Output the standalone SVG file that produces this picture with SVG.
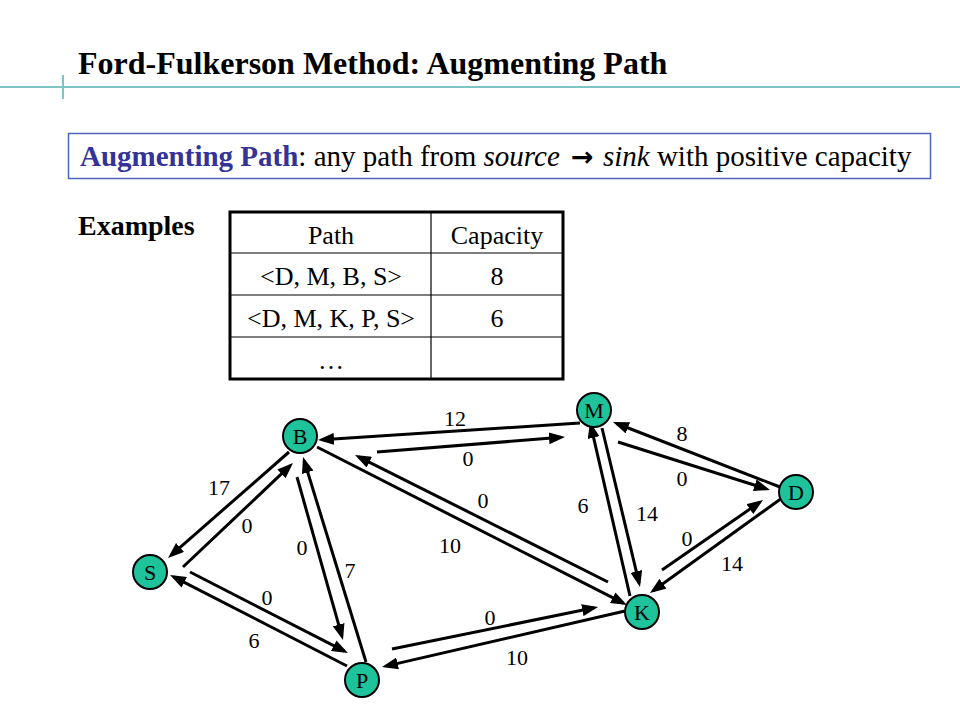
<svg xmlns="http://www.w3.org/2000/svg" width="960" height="720" viewBox="0 0 960 720">
<style>
text{font-family:"Liberation Serif","Times New Roman",serif;fill:#000}
.title{font-size:32px;font-weight:bold}
.sub{font-size:29px}
.blue{fill:#333399;font-weight:bold}
.it{font-style:italic}
.arrow{font-family:"DejaVu Sans",sans-serif;font-weight:bold;font-size:27px}
.tbl{font-size:26px;text-anchor:middle}
.node circle{fill:#1ec39c;stroke:#000;stroke-width:2}
.node text{font-size:22px;text-anchor:middle}
.edge{stroke:#000;stroke-width:3;fill:none;marker-end:url(#ah)}
.lbl{font-size:22px;text-anchor:middle}
</style>
<defs>
<marker id="ah" markerUnits="userSpaceOnUse" viewBox="0 0 16 12" markerWidth="16" markerHeight="12" refX="12" refY="6" orient="auto">
<path d="M0,0 L16,6 L0,12 z" fill="#000"/>
</marker>
</defs>
<rect width="960" height="720" fill="#fff"/>
<g id="header">
<line x1="0" y1="87" x2="960" y2="87" stroke="#7fc4c4" stroke-width="2"/>
<line x1="63" y1="75" x2="63" y2="99" stroke="#7fc4c4" stroke-width="2"/>
<text class="title" x="78" y="74">Ford-Fulkerson Method: Augmenting Path</text>
</g>
<g id="definition">
<rect x="68.5" y="133.5" width="862" height="45" fill="none" stroke="#4a64c0" stroke-width="1.5"/>
<text class="sub" x="80" y="166"><tspan class="blue">Augmenting Path</tspan>: any path from <tspan class="it">source</tspan> <tspan class="arrow" dx="4">→</tspan> <tspan class="it" dx="2">sink</tspan> with positive capacity</text>
</g>
<text x="78" y="235" font-size="28" font-weight="bold">Examples</text>
<g id="table">
<rect x="230" y="212" width="333" height="167" fill="none" stroke="#000" stroke-width="3"/>
<line x1="431" y1="212" x2="431" y2="379" stroke="#000" stroke-width="1.2"/>
<line x1="230" y1="253" x2="563" y2="253" stroke="#000" stroke-width="1.2"/>
<line x1="230" y1="295" x2="563" y2="295" stroke="#000" stroke-width="1.2"/>
<line x1="230" y1="337" x2="563" y2="337" stroke="#000" stroke-width="1.2"/>
<text class="tbl" x="331" y="244">Path</text>
<text class="tbl" x="497" y="244">Capacity</text>
<text class="tbl" x="331" y="285">&lt;D, M, B, S&gt;</text>
<text class="tbl" x="497" y="285">8</text>
<text class="tbl" x="331" y="327">&lt;D, M, K, P, S&gt;</text>
<text class="tbl" x="497" y="327">6</text>
<text class="tbl" x="331" y="369">…</text>
</g>
<g id="connectors">
<line class="edge" x1="289" y1="452" x2="171" y2="555.4"/>
<line class="edge" x1="183" y1="567" x2="290.1" y2="465.7"/>
<line class="edge" x1="297" y1="477" x2="341.9" y2="636.2"/>
<line class="edge" x1="366" y1="662" x2="304.2" y2="460.8"/>
<line class="edge" x1="190" y1="572" x2="344.4" y2="651.2"/>
<line class="edge" x1="347" y1="666" x2="173.6" y2="576.8"/>
<line class="edge" x1="392" y1="649" x2="594.1" y2="607.8"/>
<line class="edge" x1="625" y1="611" x2="385.9" y2="666.1"/>
<line class="edge" x1="608" y1="582" x2="358.6" y2="456.8"/>
<line class="edge" x1="317" y1="447" x2="623.4" y2="603.2"/>
<line class="edge" x1="580" y1="423" x2="322" y2="439.7"/>
<line class="edge" x1="377" y1="452" x2="561" y2="437.3"/>
<line class="edge" x1="630" y1="596" x2="590.9" y2="425.9"/>
<line class="edge" x1="602" y1="428" x2="639.1" y2="583.1"/>
<line class="edge" x1="780" y1="487" x2="616.7" y2="423.5"/>
<line class="edge" x1="618" y1="442" x2="766.2" y2="488.8"/>
<line class="edge" x1="662" y1="570" x2="759.7" y2="502.3"/>
<line class="edge" x1="782" y1="498" x2="653.2" y2="590.7"/>
<text class="lbl" x="219" y="495">17</text>
<text class="lbl" x="247" y="533">0</text>
<text class="lbl" x="302" y="555">0</text>
<text class="lbl" x="350" y="578">7</text>
<text class="lbl" x="267" y="605">0</text>
<text class="lbl" x="254" y="648">6</text>
<text class="lbl" x="490" y="625">0</text>
<text class="lbl" x="517" y="665">10</text>
<text class="lbl" x="483" y="508">0</text>
<text class="lbl" x="450" y="553">10</text>
<text class="lbl" x="455" y="426">12</text>
<text class="lbl" x="468" y="466">0</text>
<text class="lbl" x="583" y="513">6</text>
<text class="lbl" x="647" y="521">14</text>
<text class="lbl" x="682" y="441">8</text>
<text class="lbl" x="682" y="486">0</text>
<text class="lbl" x="687" y="546">0</text>
<text class="lbl" x="732" y="571">14</text>
</g>
<g id="node-B" class="node"><circle cx="300" cy="436" r="17"/><text x="300" y="443.5">B</text></g>
<g id="node-M" class="node"><circle cx="594" cy="410" r="17"/><text x="594" y="417.5">M</text></g>
<g id="node-D" class="node"><circle cx="796" cy="492" r="17"/><text x="796" y="499.5">D</text></g>
<g id="node-S" class="node"><circle cx="150" cy="572" r="17"/><text x="150" y="579.5">S</text></g>
<g id="node-K" class="node"><circle cx="642" cy="612" r="17"/><text x="642" y="619.5">K</text></g>
<g id="node-P" class="node"><circle cx="362" cy="680" r="17"/><text x="362" y="687.5">P</text></g>
</svg>
